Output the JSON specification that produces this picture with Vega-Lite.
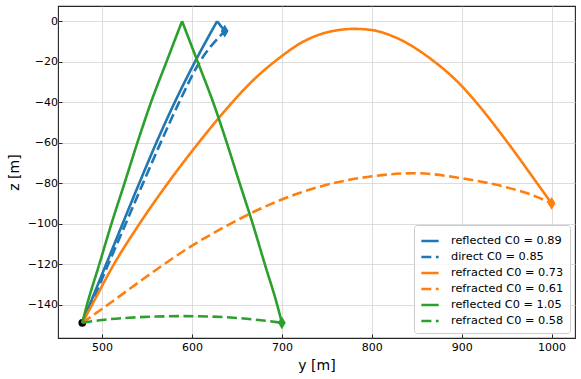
{
  "$schema": "https://vega.github.io/schema/vega-lite/v6.json",
  "width": 517,
  "height": 332,
  "autosize": "none",
  "padding": {"left": 58, "top": 6, "right": 6, "bottom": 41},
  "config": {
    "font": "DejaVu Sans",
    "view": {"stroke": "#262626", "strokeWidth": 1.1},
    "axis": {
      "grid": true,
      "gridColor": "#d4d4d4",
      "gridWidth": 0.8,
      "domain": false,
      "tickColor": "#262626",
      "tickSize": -4,
      "tickWidth": 1,
      "labelColor": "#000000",
      "labelFontSize": 11,
      "titleFontSize": 14,
      "titleFontWeight": "normal",
      "titleColor": "#000000"
    }
  },
  "datasets": {
    "rays": [
      {"ray": "reflected C0 = 0.89", "leg": 0, "i": 0, "y": 478, "z": -149},
      {"ray": "reflected C0 = 0.89", "leg": 0, "i": 1, "y": 486.3, "z": -140},
      {"ray": "reflected C0 = 0.89", "leg": 0, "i": 2, "y": 504.6, "z": -120},
      {"ray": "reflected C0 = 0.89", "leg": 0, "i": 3, "y": 522.9, "z": -100},
      {"ray": "reflected C0 = 0.89", "leg": 0, "i": 4, "y": 541.4, "z": -80},
      {"ray": "reflected C0 = 0.89", "leg": 0, "i": 5, "y": 560.4, "z": -60},
      {"ray": "reflected C0 = 0.89", "leg": 0, "i": 6, "y": 580.9, "z": -40},
      {"ray": "reflected C0 = 0.89", "leg": 0, "i": 7, "y": 603.4, "z": -20},
      {"ray": "reflected C0 = 0.89", "leg": 0, "i": 8, "y": 628, "z": 0},
      {"ray": "reflected C0 = 0.89", "leg": 1, "i": 8, "y": 628, "z": 0},
      {"ray": "reflected C0 = 0.89", "leg": 1, "i": 9, "y": 636.4, "z": -4.9},

      {"ray": "direct C0 = 0.85", "leg": 0, "i": 0, "y": 478, "z": -149},
      {"ray": "direct C0 = 0.85", "leg": 0, "i": 1, "y": 487.5, "z": -140},
      {"ray": "direct C0 = 0.85", "leg": 0, "i": 2, "y": 507, "z": -120},
      {"ray": "direct C0 = 0.85", "leg": 0, "i": 3, "y": 526.3, "z": -100},
      {"ray": "direct C0 = 0.85", "leg": 0, "i": 4, "y": 545.6, "z": -80},
      {"ray": "direct C0 = 0.85", "leg": 0, "i": 5, "y": 565.2, "z": -60},
      {"ray": "direct C0 = 0.85", "leg": 0, "i": 6, "y": 585.8, "z": -40},
      {"ray": "direct C0 = 0.85", "leg": 0, "i": 7, "y": 608.8, "z": -20},
      {"ray": "direct C0 = 0.85", "leg": 0, "i": 8, "y": 636.4, "z": -4.9},

      {"ray": "refracted C0 = 0.73", "leg": 0, "i": 0, "y": 478, "z": -149},
      {"ray": "refracted C0 = 0.73", "leg": 0, "i": 1, "y": 489, "z": -140},
      {"ray": "refracted C0 = 0.73", "leg": 0, "i": 2, "y": 512, "z": -121},
      {"ray": "refracted C0 = 0.73", "leg": 0, "i": 3, "y": 541, "z": -100.5},
      {"ray": "refracted C0 = 0.73", "leg": 0, "i": 4, "y": 574, "z": -79.5},
      {"ray": "refracted C0 = 0.73", "leg": 0, "i": 5, "y": 607.5, "z": -60},
      {"ray": "refracted C0 = 0.73", "leg": 0, "i": 6, "y": 643, "z": -41},
      {"ray": "refracted C0 = 0.73", "leg": 0, "i": 7, "y": 665, "z": -30.5},
      {"ray": "refracted C0 = 0.73", "leg": 0, "i": 8, "y": 700, "z": -17.2},
      {"ray": "refracted C0 = 0.73", "leg": 0, "i": 9, "y": 721, "z": -10.8},
      {"ray": "refracted C0 = 0.73", "leg": 0, "i": 10, "y": 740, "z": -6.9},
      {"ray": "refracted C0 = 0.73", "leg": 0, "i": 11, "y": 760, "z": -4.6},
      {"ray": "refracted C0 = 0.73", "leg": 0, "i": 12, "y": 780, "z": -3.8},
      {"ray": "refracted C0 = 0.73", "leg": 0, "i": 13, "y": 800.4, "z": -4.4},
      {"ray": "refracted C0 = 0.73", "leg": 0, "i": 14, "y": 820.8, "z": -7},
      {"ray": "refracted C0 = 0.73", "leg": 0, "i": 15, "y": 865.2, "z": -18.5},
      {"ray": "refracted C0 = 0.73", "leg": 0, "i": 16, "y": 900, "z": -32},
      {"ray": "refracted C0 = 0.73", "leg": 0, "i": 17, "y": 915, "z": -39.5},
      {"ray": "refracted C0 = 0.73", "leg": 0, "i": 18, "y": 952, "z": -60.5},
      {"ray": "refracted C0 = 0.73", "leg": 0, "i": 19, "y": 983, "z": -79.5},
      {"ray": "refracted C0 = 0.73", "leg": 0, "i": 20, "y": 1000, "z": -90},

      {"ray": "refracted C0 = 0.61", "leg": 0, "i": 0, "y": 478, "z": -149},
      {"ray": "refracted C0 = 0.61", "leg": 0, "i": 1, "y": 506, "z": -140.2},
      {"ray": "refracted C0 = 0.61", "leg": 0, "i": 2, "y": 545, "z": -127.6},
      {"ray": "refracted C0 = 0.61", "leg": 0, "i": 3, "y": 565, "z": -121.3},
      {"ray": "refracted C0 = 0.61", "leg": 0, "i": 4, "y": 596, "z": -112},
      {"ray": "refracted C0 = 0.61", "leg": 0, "i": 5, "y": 641, "z": -100.5},
      {"ray": "refracted C0 = 0.61", "leg": 0, "i": 6, "y": 670, "z": -93.9},
      {"ray": "refracted C0 = 0.61", "leg": 0, "i": 7, "y": 700.5, "z": -88},
      {"ray": "refracted C0 = 0.61", "leg": 0, "i": 8, "y": 739.4, "z": -82.1},
      {"ray": "refracted C0 = 0.61", "leg": 0, "i": 9, "y": 800.4, "z": -76.6},
      {"ray": "refracted C0 = 0.61", "leg": 0, "i": 10, "y": 848, "z": -75.1},
      {"ray": "refracted C0 = 0.61", "leg": 0, "i": 11, "y": 900, "z": -77.6},
      {"ray": "refracted C0 = 0.61", "leg": 0, "i": 12, "y": 946.5, "z": -81.7},
      {"ray": "refracted C0 = 0.61", "leg": 0, "i": 13, "y": 976, "z": -85.5},
      {"ray": "refracted C0 = 0.61", "leg": 0, "i": 14, "y": 1000, "z": -90},

      {"ray": "reflected C0 = 1.05", "leg": 0, "i": 0, "y": 478, "z": -149},
      {"ray": "reflected C0 = 1.05", "leg": 0, "i": 1, "y": 483.3, "z": -140},
      {"ray": "reflected C0 = 1.05", "leg": 0, "i": 2, "y": 497, "z": -120},
      {"ray": "reflected C0 = 1.05", "leg": 0, "i": 3, "y": 510.5, "z": -100},
      {"ray": "reflected C0 = 1.05", "leg": 0, "i": 4, "y": 525, "z": -80},
      {"ray": "reflected C0 = 1.05", "leg": 0, "i": 5, "y": 539.3, "z": -60},
      {"ray": "reflected C0 = 1.05", "leg": 0, "i": 6, "y": 554.5, "z": -40},
      {"ray": "reflected C0 = 1.05", "leg": 0, "i": 7, "y": 571.7, "z": -20},
      {"ray": "reflected C0 = 1.05", "leg": 0, "i": 8, "y": 589, "z": 0},
      {"ray": "reflected C0 = 1.05", "leg": 1, "i": 8, "y": 589, "z": 0},
      {"ray": "reflected C0 = 1.05", "leg": 1, "i": 9, "y": 606.3, "z": -20},
      {"ray": "reflected C0 = 1.05", "leg": 1, "i": 10, "y": 623.5, "z": -40},
      {"ray": "reflected C0 = 1.05", "leg": 1, "i": 11, "y": 638.7, "z": -60},
      {"ray": "reflected C0 = 1.05", "leg": 1, "i": 12, "y": 653, "z": -80},
      {"ray": "reflected C0 = 1.05", "leg": 1, "i": 13, "y": 667.5, "z": -100},
      {"ray": "reflected C0 = 1.05", "leg": 1, "i": 14, "y": 681, "z": -120},
      {"ray": "reflected C0 = 1.05", "leg": 1, "i": 15, "y": 694.7, "z": -140},
      {"ray": "reflected C0 = 1.05", "leg": 1, "i": 16, "y": 700, "z": -149},

      {"ray": "refracted C0 = 0.58", "leg": 0, "i": 0, "y": 478, "z": -149},
      {"ray": "refracted C0 = 0.58", "leg": 0, "i": 1, "y": 500, "z": -147.6},
      {"ray": "refracted C0 = 0.58", "leg": 0, "i": 2, "y": 530, "z": -146.5},
      {"ray": "refracted C0 = 0.58", "leg": 0, "i": 3, "y": 560, "z": -145.9},
      {"ray": "refracted C0 = 0.58", "leg": 0, "i": 4, "y": 590, "z": -145.7},
      {"ray": "refracted C0 = 0.58", "leg": 0, "i": 5, "y": 620, "z": -145.9},
      {"ray": "refracted C0 = 0.58", "leg": 0, "i": 6, "y": 650, "z": -146.6},
      {"ray": "refracted C0 = 0.58", "leg": 0, "i": 7, "y": 670, "z": -147.4},
      {"ray": "refracted C0 = 0.58", "leg": 0, "i": 8, "y": 700, "z": -149}
    ],
    "ends": [
      {"ray": "reflected C0 = 0.89", "y": 636.4, "z": -4.9},
      {"ray": "direct C0 = 0.85", "y": 636.4, "z": -4.9},
      {"ray": "refracted C0 = 0.73", "y": 1000, "z": -90},
      {"ray": "refracted C0 = 0.61", "y": 1000, "z": -90},
      {"ray": "reflected C0 = 1.05", "y": 700, "z": -149},
      {"ray": "refracted C0 = 0.58", "y": 700, "z": -149}
    ],
    "source": [
      {"y": 478, "z": -149}
    ]
  },
  "layer": [
    {
      "data": {"name": "source"},
      "mark": {"type": "point", "shape": "circle", "filled": true, "color": "#000000", "size": 60, "opacity": 1},
      "encoding": {
        "x": {"field": "y", "type": "quantitative"},
        "y": {"field": "z", "type": "quantitative"}
      }
    },
    {
      "data": {"name": "rays"},
      "mark": {"type": "line", "strokeWidth": 2.6, "strokeJoin": "round", "interpolate": "monotone"},
      "encoding": {
        "x": {
          "field": "y", "type": "quantitative",
          "scale": {"domain": [451, 1026], "nice": false, "zero": false},
          "axis": {"title": "y [m]", "values": [500, 600, 700, 800, 900, 1000], "format": "d", "labelPadding": 7, "titlePadding": 6}
        },
        "y": {
          "field": "z", "type": "quantitative",
          "scale": {"domain": [-156.5, 7.5], "nice": false, "zero": false},
          "axis": {"title": "z [m]", "values": [0, -20, -40, -60, -80, -100, -120, -140], "labelPadding": 4.5, "titlePadding": 6}
        },
        "order": {"field": "i", "type": "quantitative"},
        "detail": {"field": "leg", "type": "nominal"},
        "color": {
          "field": "ray", "type": "nominal",
          "scale": {
            "domain": ["reflected C0 = 0.89", "direct C0 = 0.85", "refracted C0 = 0.73", "refracted C0 = 0.61", "reflected C0 = 1.05", "refracted C0 = 0.58"],
            "range": ["#1f77b4", "#1f77b4", "#ff7f0e", "#ff7f0e", "#2ca02c", "#2ca02c"]
          },
          "legend": {
            "title": null,
            "orient": "bottom-right",
            "offset": 5,
            "fillColor": "rgba(255,255,255,0.8)",
            "strokeColor": "#cccccc",
            "cornerRadius": 3,
            "padding": 6,
            "symbolType": "stroke",
            "symbolSize": 300,
            "symbolStrokeWidth": 2.6,
            "labelFontSize": 11.3,
            "labelOffset": 11,
            "rowPadding": 0,
            "labelColor": "#000000"
          }
        },
        "strokeDash": {
          "field": "ray", "type": "nominal",
          "scale": {
            "domain": ["reflected C0 = 0.89", "direct C0 = 0.85", "refracted C0 = 0.73", "refracted C0 = 0.61", "reflected C0 = 1.05", "refracted C0 = 0.58"],
            "range": [[1, 0], [10, 4.5], [1, 0], [10, 4.5], [1, 0], [10, 4.5]]
          },
          "legend": {
            "title": null,
            "orient": "bottom-right",
            "offset": 5,
            "fillColor": "rgba(255,255,255,0.8)",
            "strokeColor": "#cccccc",
            "cornerRadius": 3,
            "padding": 6,
            "symbolType": "stroke",
            "symbolSize": 300,
            "symbolStrokeWidth": 2.6,
            "labelFontSize": 11.3,
            "labelOffset": 11,
            "rowPadding": 0,
            "labelColor": "#000000"
          }
        }
      }
    },
    {
      "data": {"name": "ends"},
      "mark": {"type": "point", "shape": "M0,-1L0.6,0L0,1L-0.6,0Z", "filled": true, "size": 150, "opacity": 1, "strokeWidth": 1},
      "encoding": {
        "x": {"field": "y", "type": "quantitative"},
        "y": {"field": "z", "type": "quantitative"},
        "color": {"field": "ray", "type": "nominal", "legend": null}
      }
    }
  ]
}
